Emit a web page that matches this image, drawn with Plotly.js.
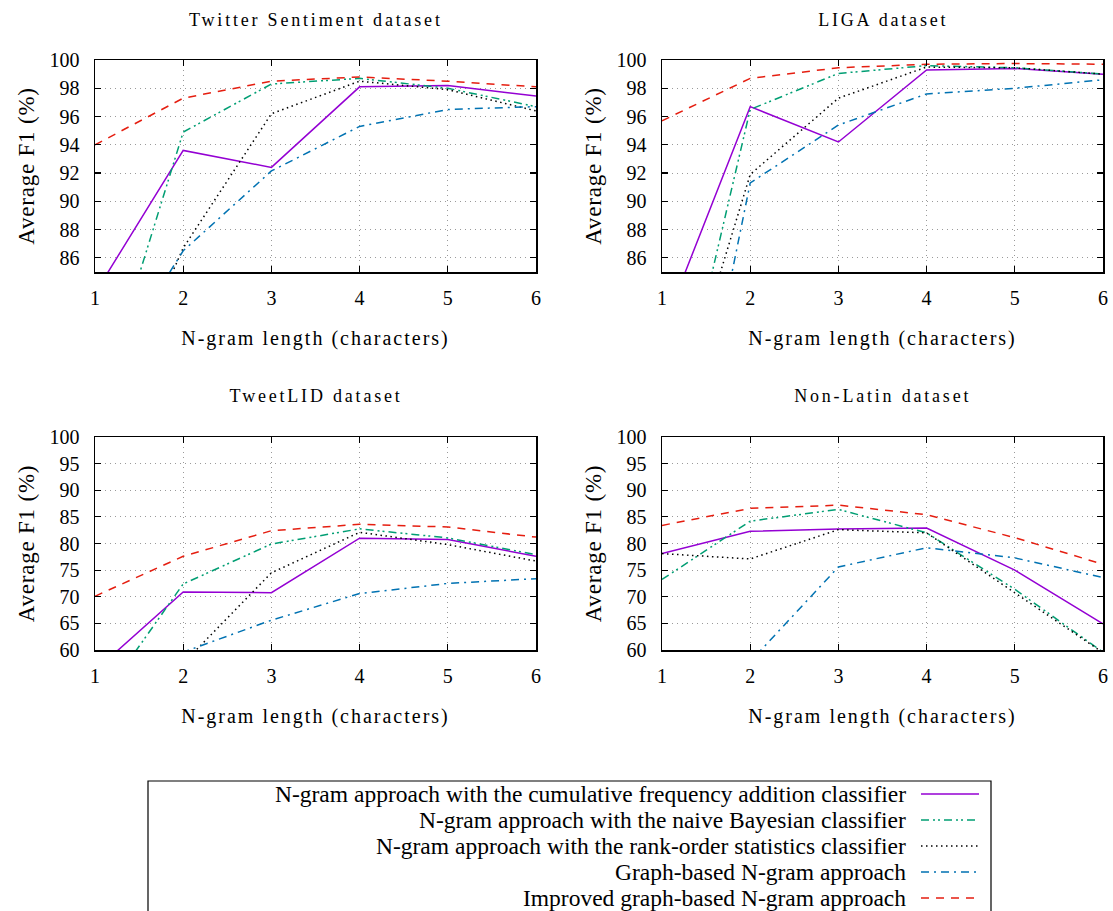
<!DOCTYPE html>
<html>
<head>
<meta charset="utf-8">
<script src="https://cdn.plot.ly/plotly-3.0.1.min.js"></script>
<style>
  html, body { margin: 0; padding: 0; background: #fff; }
  #chart { width: 1113px; height: 911px; }
  .xtitle, .x2title, .x3title, .x4title { letter-spacing: 2px; }
  .ytitle, .y2title, .y3title, .y4title { letter-spacing: 0.8px; }
  .subtitle-spaced { letter-spacing: 2.8px; }
</style>
</head>
<body>
<div id="chart"></div>
<script>
// ---- data ----
const ngramLength = [1, 2, 3, 4, 5, 6];

const seriesNames = [
  "N-gram approach with the cumulative frequency addition classifier",
  "N-gram approach with the naive Bayesian classifier",
  "N-gram approach with the rank-order statistics classifier",
  "Graph-based N-gram approach",
  "Improved graph-based N-gram approach"
];

const datasetTitles = ["Twitter Sentiment dataset", "LIGA dataset", "TweetLID dataset", "Non-Latin dataset"];

// Twitter Sentiment
const cfaTwitter = [83.5, 93.6, 92.4, 98.1, 98.2, 97.45];
const nbTwitter  = [74.7, 94.9, 98.3, 98.7, 98.0, 96.7];
const roTwitter  = [72.6, 86.7, 96.2, 98.5, 97.9, 96.4];
const gbTwitter  = [76.6, 86.5, 92.15, 95.3, 96.5, 96.7];
const igbTwitter = [94.0, 97.3, 98.5, 98.8, 98.5, 98.1];

// LIGA
const cfaLiga = [80.8, 96.7, 94.2, 99.3, 99.4, 99.0];
const nbLiga  = [69.8, 96.5, 99.05, 99.6, 99.45, 99.0];
const roLiga  = [71.4, 91.9, 97.3, 99.5, 99.45, 99.0];
const gbLiga  = [60.6, 91.3, 95.4, 97.6, 98.0, 98.6];
const igbLiga = [95.7, 98.7, 99.45, 99.7, 99.75, 99.7];

// TweetLID
const cfaTweetLID = [56.1, 70.9, 70.75, 81.0, 80.75, 77.6];
const nbTweetLID  = [49.0, 72.4, 79.9, 82.75, 81.05, 77.9];
const roTweetLID  = [45.0, 57.5, 74.5, 82.1, 79.8, 76.7];
const gbTweetLID  = [50.0, 59.6, 65.6, 70.6, 72.5, 73.4];
const igbTweetLID = [70.1, 77.6, 82.4, 83.6, 83.1, 81.2];

// Non-Latin
const cfaNonLatin = [78.1, 82.3, 82.7, 82.9, 75.0, 64.9];
const nbNonLatin  = [73.25, 84.2, 86.4, 82.0, 71.4, 59.6];
const roNonLatin  = [78.1, 77.1, 82.6, 82.0, 70.75, 59.5];
const gbNonLatin  = [45.0, 57.8, 75.6, 79.2, 77.3, 73.6];
const igbNonLatin = [83.4, 86.6, 87.2, 85.4, 81.1, 76.1];

const yTicksTop = [86, 88, 90, 92, 94, 96, 98, 100];
const yTicksBottom = [60, 65, 70, 75, 80, 85, 90, 95, 100];

// ---- styles ----
const lineStyles = [
  { color: "#9400d3", dash: "solid", width: 1.5 },
  { color: "#009e73", dash: "8px,4px,2px,3px,2px,4px", width: 1.5 },
  { color: "#000000", dash: "1.5px,3.5px", width: 1.5 },
  { color: "#0072b2", dash: "8px,5px,2px,5px", width: 1.5 },
  { color: "#e51e10", dash: "8px,7px", width: 1.5 }
];

const panels = [
  { sets: [cfaTwitter, nbTwitter, roTwitter, gbTwitter, igbTwitter], xa: "x", ya: "y" },
  { sets: [cfaLiga, nbLiga, roLiga, gbLiga, igbLiga], xa: "x2", ya: "y2" },
  { sets: [cfaTweetLID, nbTweetLID, roTweetLID, gbTweetLID, igbTweetLID], xa: "x3", ya: "y3" },
  { sets: [cfaNonLatin, nbNonLatin, roNonLatin, gbNonLatin, igbNonLatin], xa: "x4", ya: "y4" }
];

const traces = [];
panels.forEach(p => {
  p.sets.forEach((vals, i) => {
    traces.push({
      type: "scatter", mode: "lines",
      x: ngramLength, y: vals,
      name: seriesNames[i],
      xaxis: p.xa, yaxis: p.ya,
      line: { color: lineStyles[i].color, dash: lineStyles[i].dash, width: lineStyles[i].width },
      showlegend: false, hoverinfo: "x+y"
    });
  });
});

const W = 1113, H = 911;
const serif = "Liberation Serif";
const px = v => v / W;
const py = v => 1 - v / H;

function xAxis(domain, anchor) {
  return {
    domain: domain, anchor: anchor, range: [1, 6], tick0: 1, dtick: 1,
    ticks: "inside", ticklen: 6, tickwidth: 1.2, tickcolor: "#000",
    showline: true, linecolor: "#000", linewidth: 1.5, mirror: "allticks",
    showgrid: true, gridcolor: "#9a9a9a", griddash: "1px,4px", gridwidth: 1,
    zeroline: false, automargin: false, ticklabelstandoff: 7,
    tickfont: { family: serif, size: 20, color: "#000" },
    title: { text: "N-gram length (characters)", font: { family: serif, size: 20, color: "#000" }, standoff: 23 }
  };
}
function yAxis(domain, anchor, range, ticks) {
  return {
    domain: domain, anchor: anchor, range: range, tickmode: "array", tickvals: ticks,
    ticks: "inside", ticklen: 6, tickwidth: 1.2, tickcolor: "#000",
    showline: true, linecolor: "#000", linewidth: 1.5, mirror: "allticks",
    showgrid: true, gridcolor: "#9a9a9a", griddash: "1px,4px", gridwidth: 1,
    zeroline: false, automargin: false, ticklabelstandoff: 10,
    tickfont: { family: serif, size: 20, color: "#000" },
    title: { text: "Average F1 (%)", font: { family: serif, size: 23, color: "#000" }, standoff: 8 }
  };
}

const xdL = [px(95), px(536)], xdR = [px(662), px(1103)];
const ydT = [py(272), py(60)], ydB = [py(650), py(437)];

const annotations = [];
const titlePos = [
  [ (xdL[0] + xdL[1]) / 2, py(20) ],
  [ (xdR[0] + xdR[1]) / 2, py(20) ],
  [ (xdL[0] + xdL[1]) / 2, py(396) ],
  [ (xdR[0] + xdR[1]) / 2, py(396) ]
];
datasetTitles.forEach((t, i) => {
  annotations.push({
    text: t, xref: "paper", yref: "paper", x: titlePos[i][0], y: titlePos[i][1],
    xanchor: "center", yanchor: "middle", showarrow: false,
    font: { family: serif, size: 18, color: "#000" }
  });
});

// custom legend (text on the left, line sample on the right)
const shapes = [];
shapes.push({
  type: "rect", xref: "paper", yref: "paper",
  x0: px(148), x1: px(991), y0: py(925), y1: py(781),
  line: { color: "#000", width: 1.2 }, fillcolor: "rgba(0,0,0,0)"
});
const legendRows = [794, 820, 846, 872, 898];
seriesNames.forEach((n, i) => {
  annotations.push({
    text: n, xref: "paper", yref: "paper", x: px(908), y: py(legendRows[i]),
    xanchor: "right", yanchor: "middle", showarrow: false,
    font: { family: serif, size: 23.5, color: "#000" }
  });
  shapes.push({
    type: "line", xref: "paper", yref: "paper",
    x0: px(921), x1: px(979), y0: py(legendRows[i]), y1: py(legendRows[i]),
    line: { color: lineStyles[i].color, dash: lineStyles[i].dash, width: lineStyles[i].width }
  });
});

const layout = {
  width: W, height: H,
  margin: { l: 0, r: 0, t: 0, b: 0 },
  paper_bgcolor: "#fff", plot_bgcolor: "#fff",
  showlegend: false,
  xaxis: xAxis(xdL, "y"),
  yaxis: yAxis(ydT, "x", [85, 100], yTicksTop),
  xaxis2: xAxis(xdR, "y2"),
  yaxis2: yAxis(ydT, "x2", [85, 100], yTicksTop),
  xaxis3: xAxis(xdL, "y3"),
  yaxis3: yAxis(ydB, "x3", [60, 100], yTicksBottom),
  xaxis4: xAxis(xdR, "y4"),
  yaxis4: yAxis(ydB, "x4", [60, 100], yTicksBottom),
  annotations: annotations,
  shapes: shapes
};

Plotly.newPlot("chart", traces, layout, { staticPlot: true }).then(() => {
  document.querySelectorAll(".annotation-text").forEach((el, i) => {
    if (i < 4) el.classList.add("subtitle-spaced");
  });
});
</script>
</body>
</html>
